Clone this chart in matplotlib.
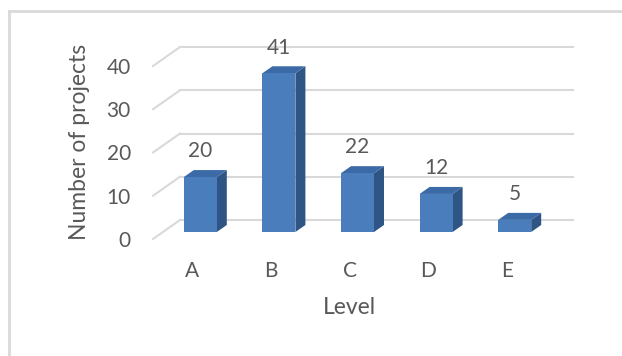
import matplotlib.pyplot as plt
from matplotlib.patches import Polygon

levels = ['A', 'B', 'C', 'D', 'E']
# bar heights as drawn against the axis, and the data labels printed above them
bar_heights = [12.7, 36.7, 13.6, 8.8, 2.8]
bar_labels = ['20', '41', '22', '12', '5']
yticks = [0, 10, 20, 30, 40]

plt.rcParams['font.family'] = ['Lato', 'DejaVu Sans']
txt = '#595959'
grid = '#d9d9d9'

W, H = 622, 356
fig = plt.figure(figsize=(W / 100, H / 100), dpi=100)

# front floor edge in pixels (top-origin): x 153..546, value 0 at y=239, 4.325 px per unit
x0, x1 = 153, 546
y0 = 239
k = 4.325
ymax = 45
ax = fig.add_axes([x0 / W, (H - y0) / H, (x1 - x0) / W, ymax * k / H])
ax.set_xlim(-0.5, 4.5)
ax.set_ylim(0, ymax)
for s in ax.spines.values():
    s.set_visible(False)

pxx = 5 / (x1 - x0)   # data x units per pixel
pxy = 1 / k           # data y units per pixel

# back wall gridlines + left wall diagonals
bdx, bdy = 27 * pxx, 19 * pxy
for v in yticks:
    ax.plot([-0.5 + bdx, 4.5 + bdx], [v + bdy, v + bdy], color=grid, lw=1.5,
            clip_on=False, zorder=1)
    ax.plot([-0.5, -0.5 + bdx], [v, v + bdy], color=grid, lw=1.5,
            clip_on=False, zorder=1)

# 3d-looking bars
fdx, fdy = 8 * pxx, 7 * pxy      # bar front plane offset
sdx, sdy = 10 * pxx, 7 * pxy     # bar depth
bw = 33 * pxx
front_c = '#4a7dbc'
top_c = '#3c6aa6'
side_c = '#2f5585'
for i, h in enumerate(bar_heights):
    xl = i + fdx - bw / 2
    xr = xl + bw
    yb = fdy
    yt = fdy + h
    ax.add_patch(Polygon([[xr, yb], [xr + sdx, yb + sdy], [xr + sdx, yt + sdy], [xr, yt]],
                         closed=True, fc=side_c, ec='none', zorder=3, clip_on=False))
    ax.add_patch(Polygon([[xl, yt], [xl + sdx, yt + sdy], [xr + sdx, yt + sdy], [xr, yt]],
                         closed=True, fc=top_c, ec='none', zorder=3, clip_on=False))
    ax.add_patch(Polygon([[xl, yb], [xr, yb], [xr, yt], [xl, yt]],
                         closed=True, fc=front_c, ec='none', zorder=4, clip_on=False))
    ax.annotate(bar_labels[i], (i + fdx, yt), xytext=(0, 18.5), textcoords='offset points',
                ha='center', va='center', fontsize=15, color=txt)

ax.set_xticks(range(len(levels)))
ax.set_xticklabels(levels)
ax.set_yticks(yticks)
ax.tick_params(length=0, colors=txt, labelsize=15)
ax.tick_params(axis='y', pad=16)
ax.tick_params(axis='x', pad=16)
ax.set_facecolor('none')

fig.text(349 / W, 1 - 308 / H, 'Level', ha='center', va='center', fontsize=16.5, color=txt)
fig.text(79 / W, 1 - 142 / H, 'Number of projects', ha='center', va='center',
         rotation=90, fontsize=16.5, color=txt)

# chart frame (only left and top edges are visible in the crop)
fig.add_artist(plt.Line2D([9 / W, 9 / W], [0, 1 - 11 / H], color='#d9d9d9', lw=2,
                          transform=fig.transFigure))
fig.add_artist(plt.Line2D([9 / W, 1], [1 - 11 / H, 1 - 11 / H], color='#d9d9d9', lw=2,
                          transform=fig.transFigure))

fig.savefig('out.png', dpi=100)
